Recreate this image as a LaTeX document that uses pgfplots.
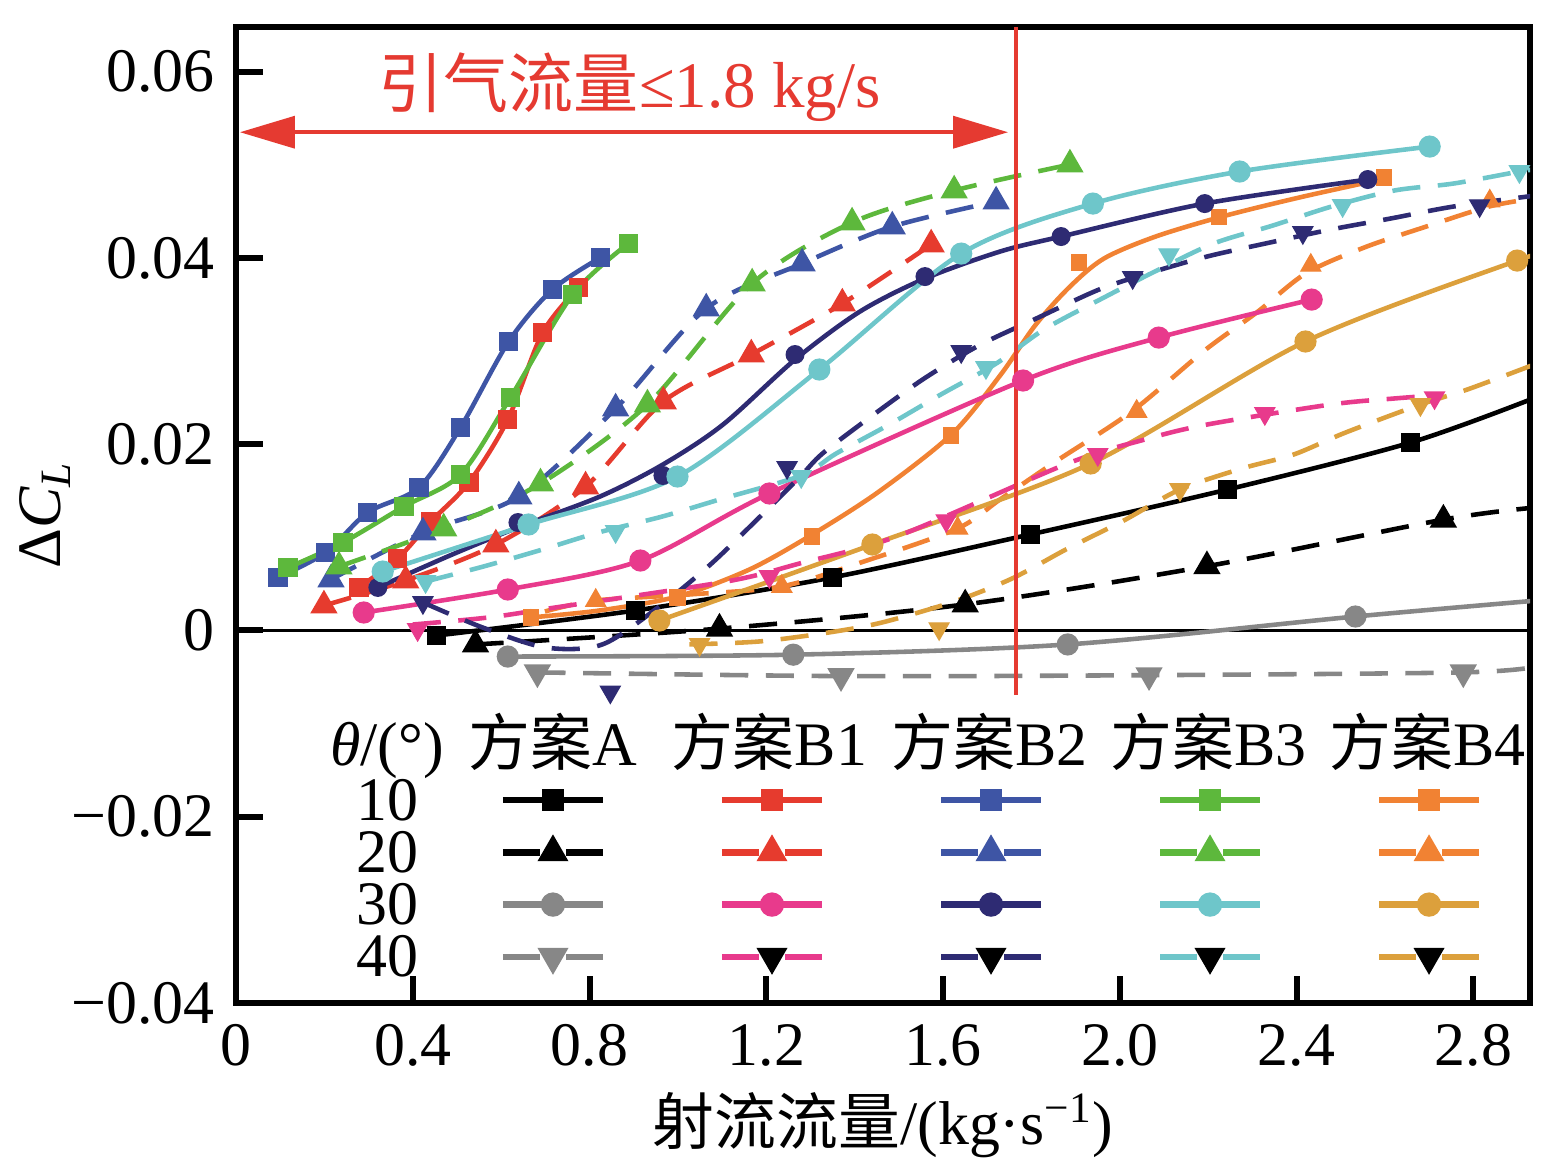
\documentclass[border=0pt]{standalone}
\usepackage{fontspec}
\setmainfont{Liberation Serif}
\newfontfamily\cjk{Noto Sans CJK SC}
\usepackage{pgfplots}
\pgfplotsset{compat=1.18}
\usetikzlibrary{arrows.meta}
\definecolor{cgray}{HTML}{878787}
\definecolor{cred}{HTML}{E63B2E}
\definecolor{cpink}{HTML}{E83A8C}
\definecolor{cblue}{HTML}{3E55A5}
\definecolor{cnavy}{HTML}{2E2B73}
\definecolor{cgreen}{HTML}{5DB83C}
\definecolor{ccyan}{HTML}{6EC6CA}
\definecolor{corange}{HTML}{F18233}
\definecolor{cgold}{HTML}{DCA03C}
\definecolor{cline}{HTML}{E53A31}
\pgfplotsset{
  sol/.style={line width=1.3pt, solid},
  dsh/.style={line width=1.3pt, dash pattern=on 8pt off 5pt},
  msq/.style={mark=square*, mark size=2.1pt, mark options={solid}},
  mtr/.style={mark=triangle*, mark size=3.2pt, mark options={solid}},
  mci/.style={mark=*, mark size=2.5pt, mark options={solid}},
  mdt/.style={mark=triangle*, mark size=3.2pt, mark options={solid, rotate=180}},
  lsol/.style={line width=1.9pt, solid},
  ldsh/.style={line width=1.9pt, dash pattern=on 0.37cm off 0.26cm},
}
\begin{document}
\fontsize{17.6pt}{21pt}\selectfont
\begin{tikzpicture}
\useasboundingbox (-2.36,-1.68) rectangle (13.16,10.03);
\begin{axis}[
  scale only axis, width=12.94cm, height=9.76cm,
  at={(0,0)}, anchor=south west,
  xmin=0, xmax=2.928, ymin=-0.04, ymax=0.0648,
  axis line style={line width=1.7pt},
  tick align=inside, xtick pos=lower, ytick pos=left,
  major tick length=0.27cm,
  major tick style={line width=1.7pt, black},
  xtick={0,0.4,0.8,1.2,1.6,2.0,2.4,2.8},
  xticklabels={0,0.4,0.8,1.2,1.6,2.0,2.4,2.8},
  ytick={-0.04,-0.02,0,0.02,0.04,0.06},
  yticklabels={−0.04,−0.02,0,0.02,0.04,0.06},
  scaled y ticks=false, minor tick num=0,
  xlabel={{\cjk 射流流量}/(kg·s\textsuperscript{−1})},
  ylabel={Δ\textit{C}\textsubscript{\textit{L}}},
  xlabel style={at={(axis description cs:0.5,-0.125)}, anchor=center},
  ylabel style={at={(axis description cs:-0.1476,0.5)}, anchor=center},
  legend columns=5,
  legend image code/.code={%
    \path[draw=none, fill=none] (-0.5775cm,-0.2615cm) rectangle (1.5775cm,0.2615cm);
    \draw[mark repeat=2,mark phase=2] plot coordinates {(0cm,0cm) (0.5cm,0cm) (1cm,0cm)};},
  legend style={at={(0.1617,0.2348)}, anchor=north west, draw=none, fill=none,
    inner sep=0pt, outer sep=0pt, row sep=0pt, column sep=0pt,
    nodes={inner sep=0pt, outer sep=0pt}},
]
% zero line
\addplot[forget plot, black, line width=0.7pt] coordinates {(0,0) (3,0)};
% ---------- Scheme A ----------
\addplot[forget plot, black, sol, msq, smooth, mark indices={1,2,3,4,5,6}] coordinates {(0.454,-0.00054) (0.904,0.00215) (1.349,0.00569) (1.797,0.01031) (2.244,0.01514) (2.658,0.02018) (2.94,0.0250)};
\addplot[forget plot, black, dsh, mtr, smooth, mark indices={1,2,3,4,5}] coordinates {(0.542,-0.0015) (1.094,0.0002) (1.650,0.0028) (2.197,0.0069) (2.732,0.0119) (2.94,0.0132)};
\addplot[forget plot, cgray, sol, mci, smooth, mark indices={1,2,3,4}] coordinates {(0.615,-0.0028) (1.261,-0.0026) (1.882,-0.0015) (2.533,0.0015) (2.94,0.0032)};
\addplot[forget plot, cgray, dsh, mdt, smooth, mark indices={1,2,3,4}] coordinates {(0.682,-0.0045) (1.369,-0.0049) (2.066,-0.0048) (2.777,-0.0045) (2.94,-0.0039)};
% ---------- 10 deg ----------
\addplot[forget plot, cred, sol, msq, smooth] coordinates {(0.278,0.00462) (0.366,0.00773) (0.441,0.0117) (0.527,0.01589) (0.615,0.02265) (0.694,0.0320) (0.775,0.0368)};
\addplot[forget plot, cblue, sol, msq, smooth] coordinates {(0.095,0.00569) (0.203,0.00837) (0.298,0.01267) (0.414,0.01535) (0.508,0.02179) (0.617,0.03102) (0.716,0.03661) (0.825,0.04004)};
\addplot[forget plot, cgreen, sol, msq, smooth] coordinates {(0.118,0.00676) (0.242,0.00945) (0.380,0.01331) (0.508,0.01675) (0.621,0.02501) (0.762,0.03607) (0.888,0.04155)};
\addplot[forget plot, corange, sol, smooth] coordinates {(0.667,0.0014) (0.823,0.00215) (0.999,0.00365) (1.162,0.00655) (1.304,0.01031) (1.455,0.01492) (1.620,0.0211) (1.729,0.02738) (1.808,0.03274) (1.885,0.03683) (1.964,0.03994) (2.081,0.0423) (2.231,0.04444) (2.405,0.04648) (2.590,0.04842)};
\addplot[forget plot, corange, only marks, msq] coordinates {(0.667,0.0014) (0.999,0.00354) (1.304,0.01009) (1.618,0.02093) (1.907,0.03951) (2.224,0.04444) (2.597,0.04863)};
% ---------- 20 deg ----------
\addplot[forget plot, cred, dsh, mtr, smooth] coordinates {(0.199,0.00268) (0.384,0.00537) (0.588,0.00923) (0.791,0.01546) (0.967,0.02458) (1.166,0.02963) (1.372,0.0351) (1.573,0.04144)};
\addplot[forget plot, cblue, dsh, mtr, smooth] coordinates {(0.215,0.00548) (0.423,0.01052) (0.640,0.01439) (0.859,0.02383) (1.064,0.03457) (1.281,0.0394) (1.485,0.04337) (1.720,0.04606)};
\addplot[forget plot, cgreen, dsh, mtr, smooth] coordinates {(0.233,0.00687) (0.470,0.01095) (0.689,0.01578) (0.931,0.02426) (1.168,0.03725) (1.394,0.0438) (1.625,0.04724) (1.887,0.05003)};
\addplot[forget plot, corange, dsh, smooth] coordinates {(0.699,0.00204) (0.814,0.00322) (1.027,0.00387) (1.235,0.00473) (1.428,0.00752) (1.633,0.01096) (1.729,0.01407) (1.855,0.01815) (2.027,0.02352) (2.192,0.03008) (2.310,0.03416) (2.421,0.03835) (2.554,0.04114) (2.688,0.04329) (2.837,0.04554) (2.94,0.0464)};
\addplot[forget plot, corange, only marks, mtr] coordinates {(0.814,0.00322) (1.235,0.00473) (1.633,0.01096) (2.038,0.02352) (2.432,0.0392) (2.837,0.0461)};
% ---------- 30 deg ----------
\addplot[forget plot, cpink, sol, mci, smooth] coordinates {(0.289,0.00193) (0.615,0.0044) (0.915,0.00751) (1.207,0.01471) (1.781,0.02684) (2.088,0.03145) (2.434,0.03553)};
\addplot[forget plot, cnavy, sol, smooth] coordinates {(0.321,0.00462) (0.484,0.00805) (0.638,0.01106) (0.824,0.01439) (0.966,0.01782) (1.102,0.02211) (1.265,0.02909) (1.412,0.03425) (1.559,0.03779) (1.729,0.04069) (1.867,0.0423) (2.192,0.04584) (2.561,0.04842)};
\addplot[forget plot, cnavy, only marks, mci] coordinates {(0.321,0.00462) (0.638,0.01159) (0.966,0.01664) (1.265,0.02963) (1.559,0.038) (1.867,0.0423) (2.192,0.04584) (2.561,0.04842)};
\addplot[forget plot, ccyan, sol, mci, smooth] coordinates {(0.332,0.00633) (0.662,0.01138) (0.999,0.01653) (1.320,0.02802) (1.641,0.04047) (1.939,0.04584) (2.271,0.04928) (2.701,0.05196)};
\addplot[forget plot, cgold, sol, mci, smooth, mark indices={1,2,3,4,5}] coordinates {(0.958,0.00107) (1.440,0.00923) (1.934,0.01793) (2.420,0.03103) (2.899,0.03972) (2.94,0.0401)};
% ---------- 40 deg ----------
\addplot[forget plot, cpink, dsh, smooth] coordinates {(0.400,0.00064) (0.572,0.0014) (0.723,0.00247) (1.110,0.00526) (1.275,0.00719) (1.501,0.0102) (1.882,0.01793) (2.056,0.0205) (2.197,0.02211) (2.477,0.02426) (2.621,0.02491) (2.712,0.02523)};
\addplot[forget plot, cpink, only marks, mdt] coordinates {(0.411,0.0001) (1.207,0.0058) (1.607,0.0118) (1.950,0.0189) (2.328,0.0233) (2.712,0.0250)};
\addplot[forget plot, cnavy, dsh, smooth] coordinates {(0.423,0.00301) (0.558,0.00032) (0.701,-0.00183) (0.829,-0.0015) (0.958,0.00258) (1.071,0.00698) (1.177,0.01181) (1.275,0.01643) (1.327,0.019) (1.440,0.02308) (1.557,0.02705) (1.681,0.0306) (1.806,0.03339) (1.953,0.03661) (2.063,0.03833) (2.197,0.04015) (2.339,0.04165) (2.477,0.04305) (2.612,0.04423) (2.755,0.04552) (2.94,0.0467)};
\addplot[forget plot, cnavy, only marks, mdt] coordinates {(0.423,0.0030) (0.847,-0.0066) (1.247,0.0175) (1.641,0.02995) (2.029,0.0379) (2.414,0.04273) (2.814,0.04562)};
\addplot[forget plot, ccyan, dsh, smooth] coordinates {(0.429,0.00526) (0.560,0.00687) (0.694,0.0087) (0.820,0.01052) (0.965,0.01224) (1.094,0.01406) (1.279,0.01664) (1.358,0.019) (1.478,0.02211) (1.595,0.02534) (1.720,0.02866) (1.828,0.03231) (1.955,0.03553) (2.079,0.03854) (2.212,0.04155) (2.346,0.04348) (2.479,0.04552) (2.621,0.04724) (2.755,0.04799) (2.904,0.04928) (2.94,0.0495)};
\addplot[forget plot, ccyan, only marks, mdt] coordinates {(0.429,0.00526) (0.859,0.01063) (1.279,0.01653) (1.697,0.02823) (2.111,0.04036) (2.504,0.04563) (2.904,0.04928)};
\addplot[forget plot, cgold, dsh, smooth] coordinates {(1.026,-0.0015) (1.184,-0.00118) (1.342,-0.00021) (1.462,0.00086) (1.625,0.00311) (1.756,0.00558) (1.882,0.0088) (2.009,0.01181) (2.136,0.01514) (2.276,0.01739) (2.393,0.01889) (2.511,0.02126) (2.680,0.02426) (2.786,0.02587) (2.94,0.0286)};
\addplot[forget plot, cgold, only marks, mdt] coordinates {(1.049,-0.0015) (1.591,0.0002) (2.136,0.01514) (2.680,0.02426)};
% ---------- annotations ----------
\draw[cline, line width=1pt] (axis cs:1.765,0.0648) -- (axis cs:1.765,-0.0069);
\draw[cline, line width=1pt, {Triangle[length=0.55cm,width=0.32cm]}-{Triangle[length=0.55cm,width=0.32cm]}] (axis cs:0.009,0.0535) -- (axis cs:1.747,0.0535);
\node[text=cline, anchor=base, font=\fontsize{18.5pt}{22pt}\selectfont] at (axis cs:0.891,0.0562) {{\cjk 引气流量}≤1.8 kg/s};
% legend header and row labels
\node[anchor=base, inner sep=0pt] at (axis cs:0.342,-0.0145) {\textit{θ}/(°)};
\node[anchor=base, inner sep=0pt] at (axis cs:0.717,-0.0145) {{\cjk 方案}A};
\node[anchor=base, inner sep=0pt] at (axis cs:1.206,-0.0145) {{\cjk 方案}B1};
\node[anchor=base, inner sep=0pt] at (axis cs:1.706,-0.0145) {{\cjk 方案}B2};
\node[anchor=base, inner sep=0pt] at (axis cs:2.201,-0.0145) {{\cjk 方案}B3};
\node[anchor=base, inner sep=0pt] at (axis cs:2.697,-0.0145) {{\cjk 方案}B4};
\node[anchor=base, inner sep=0pt] at (axis cs:0.342,-0.0204) {10};
\node[anchor=base, inner sep=0pt] at (axis cs:0.342,-0.0260) {20};
\node[anchor=base, inner sep=0pt] at (axis cs:0.342,-0.0316) {30};
\node[anchor=base, inner sep=0pt] at (axis cs:0.342,-0.0372) {40};
% legend images (rows: 10,20,30,40; columns: A,B1,B2,B3,B4)
\addlegendimage{black, lsol, msq}\addlegendentry{}
\addlegendimage{cred, lsol, msq}\addlegendentry{}
\addlegendimage{cblue, lsol, msq}\addlegendentry{}
\addlegendimage{cgreen, lsol, msq}\addlegendentry{}
\addlegendimage{corange, lsol, msq}\addlegendentry{}
\addlegendimage{black, ldsh, mtr}\addlegendentry{}
\addlegendimage{cred, ldsh, mtr}\addlegendentry{}
\addlegendimage{cblue, ldsh, mtr}\addlegendentry{}
\addlegendimage{cgreen, ldsh, mtr}\addlegendentry{}
\addlegendimage{corange, ldsh, mtr}\addlegendentry{}
\addlegendimage{cgray, lsol, mci}\addlegendentry{}
\addlegendimage{cpink, lsol, mci}\addlegendentry{}
\addlegendimage{cnavy, lsol, mci}\addlegendentry{}
\addlegendimage{ccyan, lsol, mci}\addlegendentry{}
\addlegendimage{cgold, lsol, mci}\addlegendentry{}
\addlegendimage{cgray, ldsh, mdt}\addlegendentry{}
\addlegendimage{cpink, ldsh, mdt, mark options={solid, rotate=180, fill=black, draw=black}}\addlegendentry{}
\addlegendimage{cnavy, ldsh, mdt, mark options={solid, rotate=180, fill=black, draw=black}}\addlegendentry{}
\addlegendimage{ccyan, ldsh, mdt, mark options={solid, rotate=180, fill=black, draw=black}}\addlegendentry{}
\addlegendimage{cgold, ldsh, mdt, mark options={solid, rotate=180, fill=black, draw=black}}\addlegendentry{}
\end{axis}
\end{tikzpicture}
\end{document}
